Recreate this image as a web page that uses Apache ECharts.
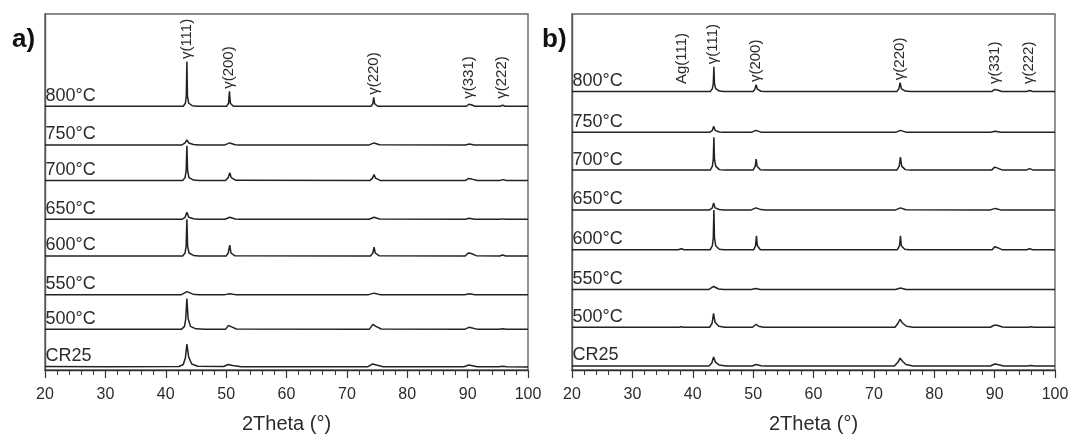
<!DOCTYPE html>
<html><head><meta charset="utf-8">
<script src="https://cdn.jsdelivr.net/npm/echarts@6/dist/echarts.min.js"></script>
<style>html,body{margin:0;padding:0;background:#fff}#c{width:1072px;height:439px}</style>
</head><body><div id="c"></div>
<script>
// ---- data ----
const samples = ['CR25', '500°C', '550°C', '600°C', '650°C', '700°C', '750°C', '800°C'];
const xTicks = [20, 30, 40, 50, 60, 70, 80, 90, 100];
// vertical stacking offsets of each pattern (same units as intensity)
const offsetsA = [3, 41, 76, 115, 152, 191, 227, 266];
const offsetsB = [4, 43, 81, 121, 161, 201, 239, 280];
// peak annotations
const peakNamesA = ['γ(111)', 'γ(200)', 'γ(220)', 'γ(331)', 'γ(222)'];
const peakPosA = [43.5, 50.6, 74.5, 90.3, 95.8];
const peakTopA = [45, 15, 9, 3, 1];
const peakNamesB = ['Ag(111)', 'γ(111)', 'γ(200)', 'γ(220)', 'γ(331)', 'γ(222)'];
const peakPosB = [38.2, 43.45, 50.5, 74.35, 90.15, 95.8];
const peakTopB = [0, 25, 7, 9, 3, 1];

// panel a) patterns: [2theta, intensity above own baseline]
const a_CR25 = [[20,0.5],[30,0.3],[42.2,0.5],[42.9,2.5],[43.25,9],[43.5,23],[43.8,10],[44.3,3],[45.3,0.8],[49.6,0.5],[50.3,2.5],[50.6,3],[51.1,1.5],[52.5,0.3],[73.5,0.3],[74.2,3],[74.5,4],[74.9,2],[76,0.3],[89.4,0.3],[90.2,2],[90.6,1.5],[91.6,0.2],[95.2,0.2],[95.8,0.7],[96.5,0.2],[100,0]];
const a_500 = [[20,0],[42.6,0],[43.1,3],[43.3,10],[43.5,31],[43.7,11],[44.1,3],[45,0.5],[46.5,0],[49.9,0],[50.4,4],[50.6,5],[50.9,2.5],[51.7,0.3],[73.7,0],[74.3,5],[74.5,6],[74.8,3],[75.7,0.3],[89.5,0],[90.2,2],[90.6,1.6],[91.5,0.2],[95.2,0],[95.8,0.5],[96.4,0],[100,0]];
const a_550 = [[20,0],[42.6,0],[43.5,3],[44.5,0.5],[45.5,0],[49.8,0],[50.6,1],[51.5,0],[73.6,0],[74.5,1.5],[75.5,0],[89.5,0],[90.3,0.8],[91.2,0],[100,0]];
const a_600 = [[20,0],[42.8,0],[43.2,3],[43.38,10],[43.5,37],[43.62,10],[43.85,3],[44.6,0.5],[45.5,0],[50.0,0],[50.35,3],[50.6,11],[50.8,3],[51.4,0.3],[73.9,0],[74.3,3],[74.5,9],[74.7,3],[75.3,0.3],[89.6,0],[90.1,3],[90.35,5],[90.6,2.5],[91.4,0.3],[95.3,0],[95.8,1],[96.3,0],[100,0]];
const a_650 = [[20,0],[42.7,0],[43.2,2],[43.5,7],[43.8,2],[44.6,0.5],[45.5,0],[49.8,0],[50.6,2],[51.5,0.3],[52.3,0],[73.7,0],[74.5,2],[75.4,0.2],[89.6,0],[90.3,1],[91.1,0],[95.3,0],[95.8,0.4],[96.3,0],[100,0]];
const a_700 = [[20,0],[42.8,0],[43.2,3],[43.38,10],[43.5,35],[43.62,10],[43.85,3],[44.6,0.5],[45.5,0],[49.9,0],[50.35,3],[50.6,8],[50.85,3],[51.6,0.3],[73.8,0],[74.25,2.5],[74.5,6],[74.75,2.5],[75.5,0.2],[89.6,0],[90.1,2],[90.35,3],[90.7,1.5],[91.6,0.2],[95.3,0],[95.8,1],[96.4,0],[100,0]];
const a_750 = [[20,0],[42.7,0],[43.2,2],[43.5,5],[43.8,2],[44.6,0.4],[45.5,0],[49.8,0],[50.6,2],[51.5,0.2],[52.3,0],[73.7,0],[74.5,2],[75.4,0.2],[89.6,0],[90.3,1],[91.1,0],[100,0]];
const a_800 = [[20,0],[42.9,0],[43.25,3],[43.4,10],[43.5,45],[43.6,10],[43.8,3],[44.4,0.5],[45.2,0],[50.1,0],[50.4,3],[50.55,15],[50.7,3],[51.2,0],[74.0,0],[74.3,2.5],[74.45,9],[74.6,2.5],[75.1,0],[89.8,0],[90.2,2],[90.35,3],[90.6,1.5],[91.2,0],[95.4,0],[95.8,1],[96.2,0],[100,0]];

// panel b) patterns
const b_CR25 = [[20,0],[42.7,0],[43.15,3],[43.45,9],[43.75,4],[44.4,1],[45.5,0],[49.8,0],[50.5,1.5],[51.3,0.3],[52,0],[73.4,0],[74.0,4],[74.35,8],[74.7,5],[75.3,1.5],[76.5,0],[89.3,0],[90,2],[90.5,1.5],[91.5,0],[95.4,0],[96,0.5],[96.6,0],[100,0]];
const b_500 = [[20,0],[37.7,0],[38.1,0.5],[38.5,0],[42.8,0],[43.2,4],[43.45,14],[43.7,5],[44.3,1],[45.3,0],[49.9,0],[50.5,3],[50.9,1],[51.7,0],[73.5,0],[74.0,4],[74.35,8],[74.7,4.5],[75.4,1],[76.5,0],[89.3,0],[89.9,2],[90.4,2],[91.3,0.3],[92,0],[95.6,0],[96,0.5],[96.5,0],[100,0]];
const b_550 = [[20,0],[42.7,0],[43.45,3],[44.3,0.5],[45.2,0],[49.7,0],[50.4,1],[51.2,0],[73.6,0],[74.4,1.5],[75.3,0],[100,0]];
const b_600 = [[20,0],[37.6,0],[38.1,1],[38.6,0],[42.9,0],[43.25,4],[43.4,12],[43.5,40],[43.6,12],[43.8,4],[44.4,0.5],[45.2,0],[50.1,0],[50.4,4],[50.55,14],[50.7,4],[51.2,0],[73.9,0],[74.25,4],[74.4,14],[74.55,4],[75.1,0.5],[75.8,0],[89.6,0],[90,3],[90.2,5],[90.5,2],[91.2,0],[95.3,0],[95.8,1],[96.3,0],[100,0]];
const b_650 = [[20,0],[42.8,0],[43.25,2],[43.45,7],[43.7,2],[44.4,0.4],[45.2,0],[49.7,0],[50.45,2],[51.3,0.3],[52,0],[73.6,0],[74.4,2],[75.3,0.2],[89.3,0],[90.1,1.5],[91,0],[100,0]];
const b_700 = [[20,0],[42.9,0],[43.25,4],[43.4,11],[43.5,33],[43.6,11],[43.8,4],[44.4,0.5],[45.2,0],[50.0,0],[50.35,4],[50.5,11],[50.65,4],[51.2,0.3],[52,0],[73.8,0],[74.2,4],[74.4,13],[74.6,4],[75.2,0.5],[76,0],[89.5,0],[90,3],[90.2,5],[90.5,2],[91.3,0],[95.2,0],[95.8,1.5],[96.4,0],[100,0]];
const b_750 = [[20,0],[42.8,0],[43.25,2],[43.45,6],[43.7,2],[44.4,0.3],[45.2,0],[49.7,0],[50.45,2],[51.3,0.2],[52,0],[73.6,0],[74.4,2],[75.3,0.2],[89.3,0],[90.1,1],[91,0],[100,0]];
const b_800 = [[20,0],[42.9,0],[43.25,3],[43.4,8],[43.5,25],[43.6,8],[43.8,3],[44.4,0.5],[45.2,0],[50.0,0],[50.3,2.5],[50.5,7],[50.7,2.5],[51.3,0.3],[52,0],[73.8,0],[74.15,3],[74.35,9],[74.55,3],[75.2,0.5],[76,0],[89.5,0],[89.95,2],[90.15,3],[90.45,1.5],[91.2,0],[95.3,0],[95.8,1],[96.3,0],[100,0]];

const patternsA = [a_CR25, a_500, a_550, a_600, a_650, a_700, a_750, a_800];
const patternsB = [b_CR25, b_500, b_550, b_600, b_650, b_700, b_750, b_800];

// ---- chart ----
const FONT = 'Liberation Sans, Arial, sans-serif';
const TXT = '#2b2b2b';
const chart = echarts.init(document.getElementById('c'), null, {renderer: 'canvas'});

function xAxisFor(gi) {
  return {
    gridIndex: gi, type: 'value', min: 20, max: 100, interval: 10,
    name: '2Theta (°)', nameLocation: 'middle', nameGap: 44,
    nameTextStyle: {fontFamily: FONT, fontSize: 20, color: TXT},
    axisLine: {show: true, lineStyle: {color: '#333', width: 1.4}},
    axisTick: {show: true, inside: false, length: 8, lineStyle: {color: '#333', width: 1.2}},
    minorTick: {show: true, splitNumber: 5, length: 5, lineStyle: {color: '#333', width: 1}},
    axisLabel: {fontFamily: FONT, fontSize: 16, color: TXT, margin: 17,
      formatter: v => xTicks.includes(v) ? String(v) : ''},
    splitLine: {show: false}
  };
}
function yAxisFor(gi, max) {
  return {
    gridIndex: gi, type: 'value', min: 0, max: max,
    axisLine: {show: true, lineStyle: {color: '#555', width: 1.4}},
    axisTick: {show: false}, axisLabel: {show: false}, splitLine: {show: false}
  };
}

const series = [];
function addPanel(gi, patterns, offsets, names, pos, tops) {
  patterns.forEach((p, i) => {
    series.push({
      type: 'line', xAxisIndex: gi, yAxisIndex: gi, name: samples[i],
      data: p.map(d => [d[0], d[1] + offsets[i]]),
      showSymbol: false, symbol: 'none', silent: true, animation: false,
      lineStyle: {color: '#222', width: 1.5}
    });
  });
  // sample names
  series.push({
    type: 'scatter', xAxisIndex: gi, yAxisIndex: gi, silent: true, animation: false,
    symbolSize: 1, itemStyle: {color: 'transparent', opacity: 1},
    data: samples.map((s, i) => ({value: [20, offsets[i]], name: s})),
    label: {show: true, formatter: d => d.name, position: [1, -1], align: 'left', verticalAlign: 'bottom',
      fontFamily: FONT, fontSize: 18, color: TXT, opacity: 1}
  });
  // peak names
  const top = offsets[offsets.length - 1];
  series.push({
    type: 'scatter', xAxisIndex: gi, yAxisIndex: gi, silent: true, animation: false,
    symbolSize: 1, itemStyle: {color: 'transparent', opacity: 1},
    data: names.map((s, i) => ({value: [pos[i], top + Math.max(tops[i], 5) + 2], name: s})),
    label: {show: true, formatter: d => d.name, position: [0, 0], rotate: 90, align: 'left', verticalAlign: 'middle',
      fontFamily: FONT, fontSize: 15, color: TXT, opacity: 1}
  });
}
addPanel(0, patternsA, offsetsA, peakNamesA, peakPosA, peakTopA);
addPanel(1, patternsB, offsetsB, peakNamesB, peakPosB, peakTopB);

chart.setOption({
  animation: false,
  backgroundColor: '#fff',
  grid: [
    {left: 45, top: 14, width: 483, height: 359, show: true, borderColor: '#666', borderWidth: 1.4, backgroundColor: 'transparent'},
    {left: 572, top: 14, width: 483, height: 358, show: true, borderColor: '#666', borderWidth: 1.4, backgroundColor: 'transparent'}
  ],
  xAxis: [xAxisFor(0), xAxisFor(1)],
  yAxis: [yAxisFor(0, 359), yAxisFor(1, 358)],
  graphic: [
    {type: 'text', left: 12, top: 27, style: {text: 'a)', font: 'bold 26px ' + FONT, fill: '#111'}},
    {type: 'text', left: 542, top: 27, style: {text: 'b)', font: 'bold 26px ' + FONT, fill: '#111'}}
  ],
  series: series
});
</script>
</body></html>
